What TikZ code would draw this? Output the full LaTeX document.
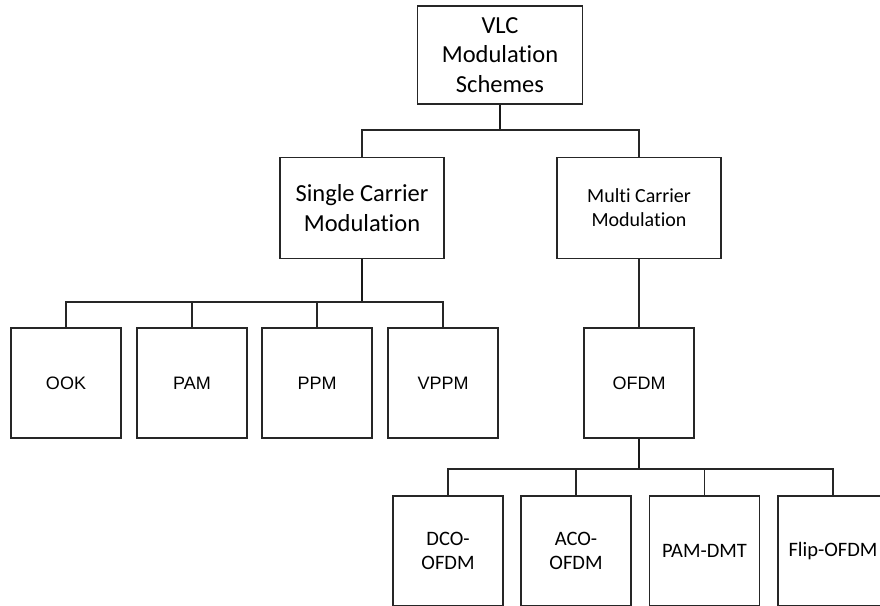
\documentclass[tikz,border=0pt]{standalone}
\usepackage{fontspec}
\setmainfont{Carlito}[Ligatures=NoCommon]
\newfontfamily\arialfont{Liberation Sans}
\begin{document}
\begin{tikzpicture}[x=1pt,y=-1pt,
  box/.style={draw=black!85, line width=1.8pt, fill=white, inner sep=0pt, align=center},
  bigbox/.style={box, font=\fontsize{24.5}{29.5}\selectfont},
  midbox/.style={box, font=\fontsize{20}{24}\selectfont},
  leaf/.style={box, minimum width=110pt, minimum height=110pt},
  leafA/.style={leaf, font=\arialfont\fontsize{18}{22}\selectfont},
  leafC/.style={leaf, font=\fontsize{20.5}{24}\selectfont},
  link/.style={draw=black!85, line width=1.8pt},
  trunk/.style={draw=black!90, line width=2.6pt}]
\useasboundingbox (0,0) rectangle (880,605);
\clip (0,0) rectangle (880,605);

% level 0
\node[bigbox, minimum width=165pt, minimum height=98pt] (vlc) at (500,55) {VLC\\Modulation\\Schemes};
% level 1
\node[bigbox, minimum width=164pt, minimum height=101pt] (single) at (362,208) {Single Carrier\\Modulation};
\node[midbox, minimum width=164pt, minimum height=101pt] (multi) at (639,208) {Multi Carrier\\Modulation};
% level 2
\node[leafA] (ook)  at (66,383)  {OOK};
\node[leafA] (pam)  at (192,383) {PAM};
\node[leafA] (ppm)  at (317,383) {PPM};
\node[leafA] (vppm) at (443,383) {VPPM};
\node[leafA] (ofdm) at (639,383) {OFDM};
% level 3
\node[leafC] (dco)  at (448,551) {DCO-\\OFDM};
\node[leafC] (aco)  at (576,551) {ACO-\\OFDM};
\node[leafC] (pamdmt) at (704.5,551) {PAM-DMT};
\node[leafC] (flip) at (833,551) {Flip-OFDM};

% bus junctions
\coordinate (j0) at (500,130);
\coordinate (j1) at (362,302);
\coordinate (j2) at (639,469);

% connectors
\draw[trunk] (vlc.south) -- (j0);
\draw[link] (single.north) |- (j0) -| (multi.north);

\draw[trunk] (single.south) -- (j1);
\draw[link] (ook.north) |- (j1);
\draw[link] (pam.north) |- (j1);
\draw[link] (ppm.north) |- (j1);
\draw[link] (vppm.north) |- (j1);

\draw[link] (multi.south) -- (ofdm.north);

\draw[trunk] (ofdm.south) -- (j2);
\draw[link] (dco.north) |- (j2);
\draw[link] (aco.north) |- (j2);
\draw[link] (pamdmt.north) |- (j2);
\draw[link] (flip.north) |- (j2);
\end{tikzpicture}
\end{document}
